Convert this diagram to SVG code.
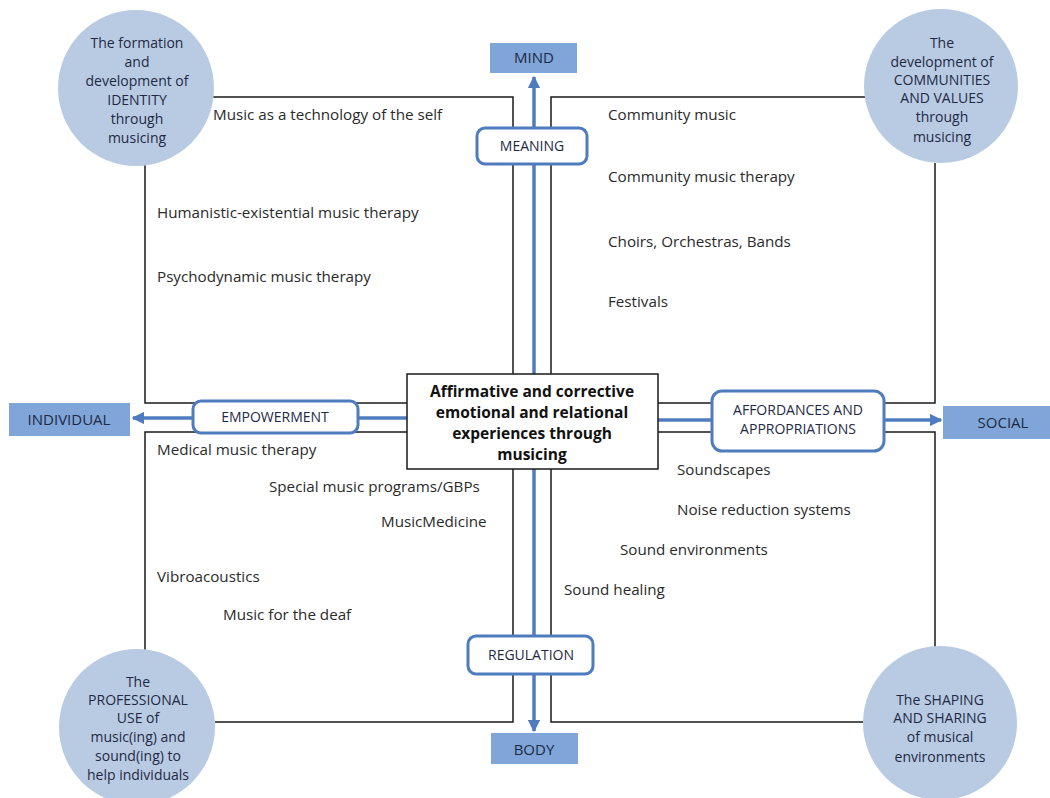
<svg xmlns="http://www.w3.org/2000/svg" width="1050" height="798" viewBox="0 0 1050 798">
<defs>
<style>
.ln{stroke:#1a1a1a;stroke-width:1.5;fill:none}
.ar{stroke:#4f7cbf;stroke-width:3.5;fill:none}
.circ{fill:#b9cbe3}
.bx{fill:#7fa5d9}
.rb{fill:#fff;stroke:#4f7cbf;stroke-width:3}
.t{font-family:"Open Sans","Liberation Sans",sans-serif;font-size:15.2px;fill:#2a2a2a}
.c{font-family:"Open Sans","Liberation Sans",sans-serif;font-size:14px;fill:#1e2a44;text-anchor:middle}
.lb{font-family:"Open Sans","Liberation Sans",sans-serif;font-size:14px;fill:#1e2a44;text-anchor:middle}
.bl{font-family:"Open Sans","Liberation Sans",sans-serif;font-size:15px;fill:#1e2a44;text-anchor:middle}
.ctr{font-family:"Open Sans","Liberation Sans",sans-serif;font-size:15.5px;font-weight:bold;fill:#111;text-anchor:middle}
</style>
<marker id="ah" viewBox="0 0 10 10" refX="9" refY="5" markerWidth="3.6" markerHeight="3.6" orient="auto" markerUnits="strokeWidth">
<path d="M0,0 L10,5 L0,10 z" fill="#4f7cbf"/>
</marker>
</defs>
<rect width="1050" height="798" fill="#fff"/>

<g id="connectors">
<path class="ln" d="M213,97 H513 V374"/>
<path class="ln" d="M551,374 V97 H865"/>
<path class="ln" d="M145,164 V403 H407"/>
<path class="ln" d="M935,163 V403 H658"/>
<path class="ln" d="M145,650 V432 H407"/>
<path class="ln" d="M935,648 V432 H658"/>
<path class="ln" d="M215,722 H513 V469"/>
<path class="ln" d="M551,469 V722 H863"/>
<line class="ar" x1="534" y1="374" x2="534" y2="77" marker-end="url(#ah)"/>
<line class="ar" x1="534" y1="469" x2="534" y2="731" marker-end="url(#ah)"/>
<line class="ar" x1="407" y1="418" x2="133" y2="418" marker-end="url(#ah)"/>
<line class="ar" x1="658" y1="420" x2="941" y2="420" marker-end="url(#ah)"/>
</g>

<g id="circle-identity">
<circle class="circ" cx="136" cy="88" r="78"/>
<text class="c" x="137" y="48">The formation</text>
<text class="c" x="137" y="67">and</text>
<text class="c" x="137" y="86">development of</text>
<text class="c" x="137" y="105">IDENTITY</text>
<text class="c" x="137" y="124">through</text>
<text class="c" x="137" y="143">musicing</text>
</g>

<g id="circle-communities">
<circle class="circ" cx="941" cy="86" r="77"/>
<text class="c" x="942" y="48">The</text>
<text class="c" x="942" y="67">development of</text>
<text class="c" x="942" y="85">COMMUNITIES</text>
<text class="c" x="942" y="103">AND VALUES</text>
<text class="c" x="942" y="122">through</text>
<text class="c" x="942" y="142">musicing</text>
</g>

<g id="circle-professional">
<circle class="circ" cx="137" cy="727" r="78"/>
<text class="c" x="138" y="687">The</text>
<text class="c" x="138" y="705">PROFESSIONAL</text>
<text class="c" x="138" y="723">USE of</text>
<text class="c" x="138" y="742">music(ing) and</text>
<text class="c" x="138" y="761">sound(ing) to</text>
<text class="c" x="138" y="780">help individuals</text>
</g>

<g id="circle-shaping">
<circle class="circ" cx="940" cy="723" r="77"/>
<text class="c" x="940" y="705">The SHAPING</text>
<text class="c" x="940" y="723">AND SHARING</text>
<text class="c" x="940" y="742">of musical</text>
<text class="c" x="940" y="762">environments</text>
</g>

<g id="mind">
<rect class="bx" x="490" y="43" width="87" height="30"/>
<text class="bl" x="534" y="63">MIND</text>
</g>
<g id="body">
<rect class="bx" x="491" y="733" width="87" height="31"/>
<text class="bl" x="534" y="755">BODY</text>
</g>
<g id="individual">
<rect class="bx" x="9" y="403" width="121" height="33"/>
<text class="bl" x="69" y="425">INDIVIDUAL</text>
</g>
<g id="social">
<rect class="bx" x="943" y="406" width="107" height="33"/>
<text class="bl" x="1003" y="428">SOCIAL</text>
</g>

<g id="meaning">
<rect class="rb" x="477" y="128" width="110" height="36" rx="8"/>
<text class="lb" x="532" y="151">MEANING</text>
</g>
<g id="regulation">
<rect class="rb" x="468" y="636" width="125" height="38" rx="8"/>
<text class="lb" x="531" y="660">REGULATION</text>
</g>
<g id="empowerment">
<rect class="rb" x="193" y="401" width="165" height="32" rx="8"/>
<text class="lb" x="275" y="422">EMPOWERMENT</text>
</g>
<g id="affordances">
<rect class="rb" x="712" y="391" width="172" height="60" rx="10"/>
<text class="lb" x="798" y="415">AFFORDANCES AND</text>
<text class="lb" x="798" y="434">APPROPRIATIONS</text>
</g>

<g id="center">
<rect x="407" y="374" width="251" height="95" fill="#fff" stroke="#1a1a1a" stroke-width="1.5"/>
<text class="ctr" x="532" y="397">Affirmative and corrective</text>
<text class="ctr" x="532" y="418">emotional and relational</text>
<text class="ctr" x="532" y="439">experiences through</text>
<text class="ctr" x="532" y="460">musicing</text>
</g>

<g id="labels">
<text class="t" x="213" y="120">Music as a technology of the self</text>
<text class="t" x="157" y="218">Humanistic-existential music therapy</text>
<text class="t" x="157" y="282">Psychodynamic music therapy</text>
<text class="t" x="608" y="120">Community music</text>
<text class="t" x="608" y="182">Community music therapy</text>
<text class="t" x="608" y="247">Choirs, Orchestras, Bands</text>
<text class="t" x="608" y="307">Festivals</text>
<text class="t" x="157" y="455">Medical music therapy</text>
<text class="t" x="269" y="492">Special music programs/GBPs</text>
<text class="t" x="381" y="527">MusicMedicine</text>
<text class="t" x="157" y="582">Vibroacoustics</text>
<text class="t" x="223" y="620">Music for the deaf</text>
<text class="t" x="677" y="475">Soundscapes</text>
<text class="t" x="677" y="515">Noise reduction systems</text>
<text class="t" x="620" y="555">Sound environments</text>
<text class="t" x="564" y="595">Sound healing</text>
</g>
</svg>
